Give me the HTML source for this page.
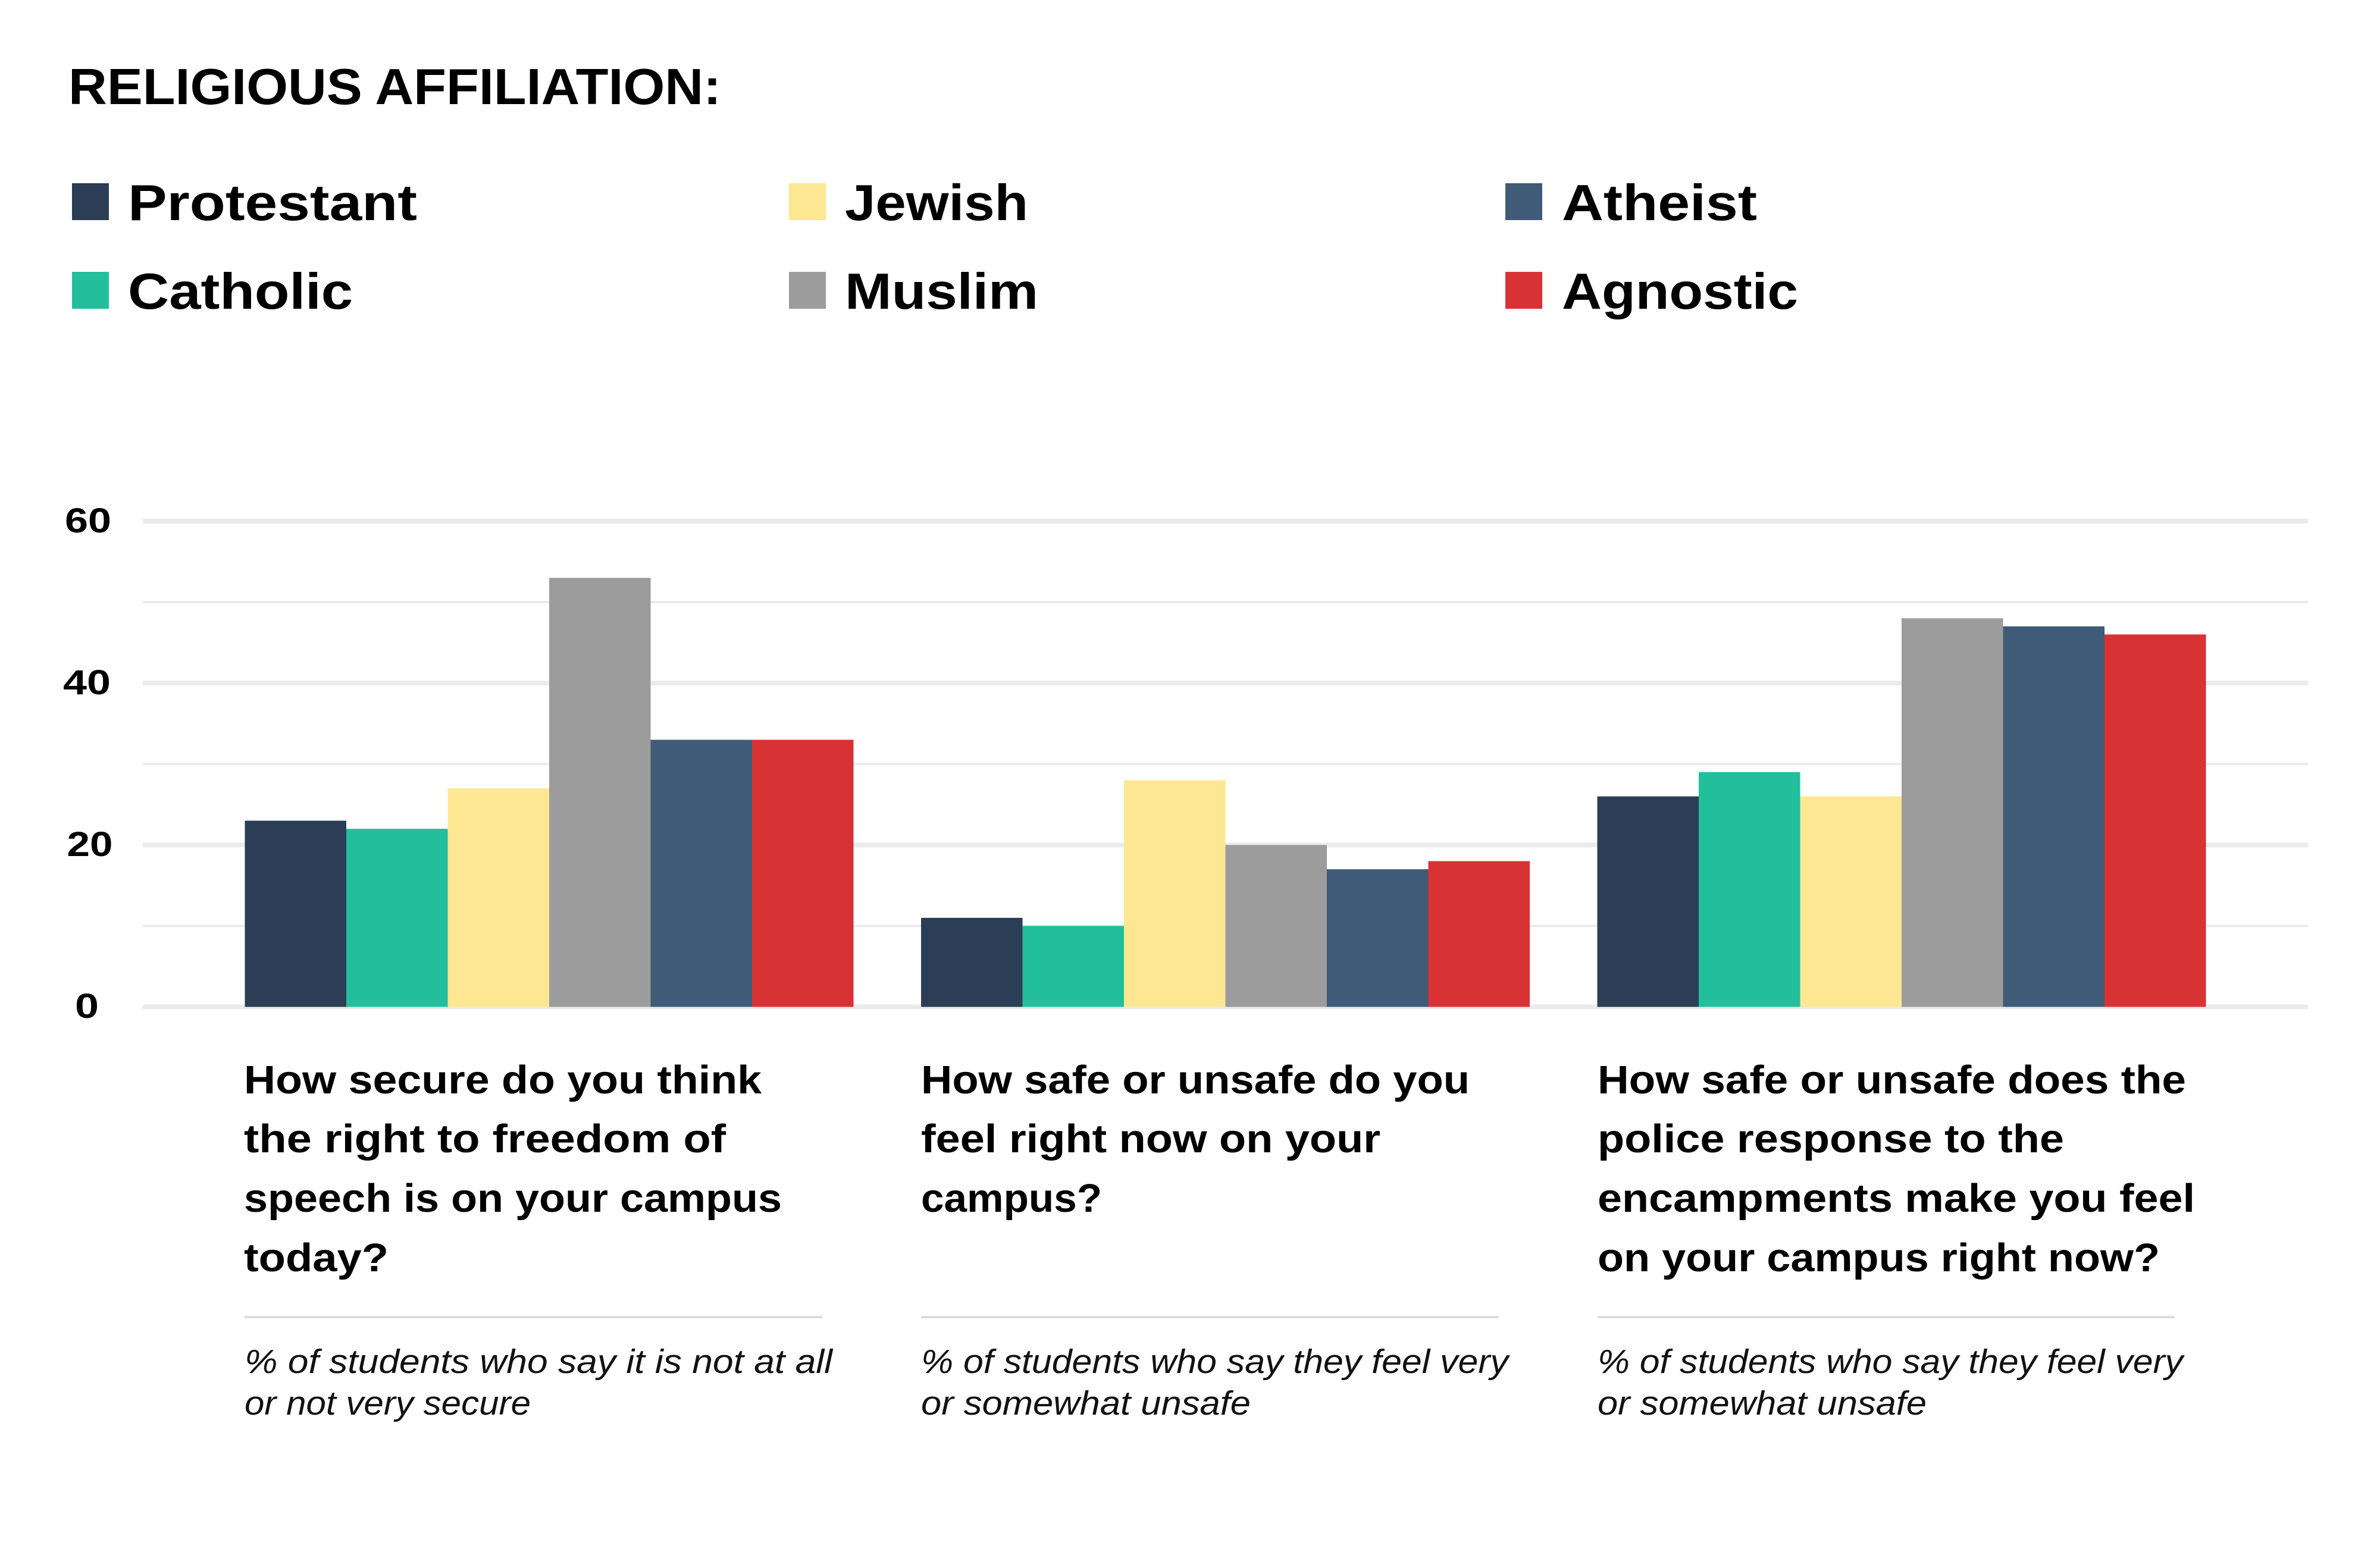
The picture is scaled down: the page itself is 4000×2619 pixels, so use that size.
<!DOCTYPE html>
<html>
<head>
<meta charset="utf-8">
<style>
  html, body { margin: 0; padding: 0; background: #ffffff; }
  svg { display: block; }
  text { font-family: "Liberation Sans", "DejaVu Sans", sans-serif; fill: #000; }
  .b { font-weight: bold; }
  .it { font-style: italic; font-weight: normal; fill: #111; }
</style>
</head>
<body>
<svg width="4000" height="2619" viewBox="0 0 4000 2619" xmlns="http://www.w3.org/2000/svg">
  <rect x="0" y="0" width="4000" height="2619" fill="#ffffff"/>

  <!-- Title -->
  <text class="b" x="115" y="175" font-size="85" textLength="1097" lengthAdjust="spacingAndGlyphs">RELIGIOUS AFFILIATION:</text>

  <!-- Legend -->
  <rect x="121" y="308" width="62" height="62" fill="#2c3e55"/>
  <text class="b" x="215" y="370" font-size="85" textLength="486" lengthAdjust="spacingAndGlyphs">Protestant</text>
  <rect x="121" y="457" width="62" height="62" fill="#23be9b"/>
  <text class="b" x="215" y="519" font-size="85" textLength="378" lengthAdjust="spacingAndGlyphs">Catholic</text>

  <rect x="1326" y="308" width="62" height="62" fill="#fde793"/>
  <text class="b" x="1420" y="370" font-size="85" textLength="308" lengthAdjust="spacingAndGlyphs">Jewish</text>
  <rect x="1326" y="457" width="62" height="62" fill="#9c9c9c"/>
  <text class="b" x="1420" y="519" font-size="85" textLength="325" lengthAdjust="spacingAndGlyphs">Muslim</text>

  <rect x="2530" y="308" width="62" height="62" fill="#405b77"/>
  <text class="b" x="2625" y="370" font-size="85" textLength="328" lengthAdjust="spacingAndGlyphs">Atheist</text>
  <rect x="2530" y="457" width="62" height="62" fill="#d93234"/>
  <text class="b" x="2625" y="519" font-size="85" textLength="397" lengthAdjust="spacingAndGlyphs">Agnostic</text>

  <!-- Gridlines -->
  <g fill="#ebebeb">
    <rect x="240" y="872" width="3639" height="8"/>
    <rect x="240" y="1010.1" width="3639" height="4"/>
    <rect x="240" y="1144.2" width="3639" height="8"/>
    <rect x="240" y="1282.3" width="3639" height="4"/>
    <rect x="240" y="1416.4" width="3639" height="8"/>
    <rect x="240" y="1554.5" width="3639" height="4"/>
    <rect x="240" y="1688.6" width="3639" height="8"/>
  </g>

  <!-- Y axis labels -->
  <text class="b" x="148" y="895" font-size="58" text-anchor="middle" textLength="78" lengthAdjust="spacingAndGlyphs">60</text>
  <text class="b" x="146" y="1167" font-size="58" text-anchor="middle" textLength="80" lengthAdjust="spacingAndGlyphs">40</text>
  <text class="b" x="151" y="1439" font-size="58" text-anchor="middle" textLength="77" lengthAdjust="spacingAndGlyphs">20</text>
  <text class="b" x="146" y="1711" font-size="58" text-anchor="middle" textLength="40" lengthAdjust="spacingAndGlyphs">0</text>

  <!-- Group 1 bars: 23,22,27,53,33,33 -->
  <rect x="411.5" y="1379.6" width="170.5" height="313.0" fill="#2c3e55"/>
  <rect x="582" y="1393.2" width="170.5" height="299.4" fill="#23be9b"/>
  <rect x="752.5" y="1325.2" width="170.5" height="367.4" fill="#fde793"/>
  <rect x="923" y="971.4" width="170.5" height="721.2" fill="#9c9c9c"/>
  <rect x="1093.5" y="1243.6" width="170.5" height="449.0" fill="#405b77"/>
  <rect x="1264" y="1243.6" width="170.5" height="449.0" fill="#d93234"/>

  <!-- Group 2 bars: 11,10,28,20,17,18 -->
  <rect x="1548" y="1542.9" width="170.5" height="149.7" fill="#2c3e55"/>
  <rect x="1718.5" y="1556.5" width="170.5" height="136.1" fill="#23be9b"/>
  <rect x="1889" y="1311.6" width="170.5" height="381.0" fill="#fde793"/>
  <rect x="2059.5" y="1420.4" width="170.5" height="272.2" fill="#9c9c9c"/>
  <rect x="2230" y="1461.2" width="170.5" height="231.4" fill="#405b77"/>
  <rect x="2400.5" y="1447.6" width="170.5" height="245.0" fill="#d93234"/>

  <!-- Group 3 bars: 26,29,26,48,47,46 -->
  <rect x="2684.5" y="1338.7" width="170.5" height="353.9" fill="#2c3e55"/>
  <rect x="2855" y="1297.9" width="170.5" height="394.7" fill="#23be9b"/>
  <rect x="3025.5" y="1338.7" width="170.5" height="353.9" fill="#fde793"/>
  <rect x="3196" y="1039.3" width="170.5" height="653.3" fill="#9c9c9c"/>
  <rect x="3366.5" y="1052.9" width="170.5" height="639.7" fill="#405b77"/>
  <rect x="3537" y="1066.5" width="170.5" height="626.1" fill="#d93234"/>

  <!-- Category labels group 1 -->
  <text class="b" x="410" y="1838" font-size="67" textLength="870" lengthAdjust="spacingAndGlyphs">How secure do you think</text>
  <text class="b" x="410" y="1937" font-size="67" textLength="810" lengthAdjust="spacingAndGlyphs">the right to freedom of</text>
  <text class="b" x="410" y="2037" font-size="67" textLength="904" lengthAdjust="spacingAndGlyphs">speech is on your campus</text>
  <text class="b" x="410" y="2137" font-size="67" textLength="243" lengthAdjust="spacingAndGlyphs">today?</text>
  <rect x="411" y="2212" width="971" height="4" fill="#dcdcdc"/>
  <text class="it" x="411" y="2308" font-size="57" textLength="988" lengthAdjust="spacingAndGlyphs">% of students who say it is not at all</text>
  <text class="it" x="411" y="2378" font-size="57" textLength="481" lengthAdjust="spacingAndGlyphs">or not very secure</text>

  <!-- Category labels group 2 -->
  <text class="b" x="1548" y="1838" font-size="67" textLength="922" lengthAdjust="spacingAndGlyphs">How safe or unsafe do you</text>
  <text class="b" x="1548" y="1937" font-size="67" textLength="772" lengthAdjust="spacingAndGlyphs">feel right now on your</text>
  <text class="b" x="1548" y="2037" font-size="67" textLength="304" lengthAdjust="spacingAndGlyphs">campus?</text>
  <rect x="1548" y="2212" width="971" height="4" fill="#dcdcdc"/>
  <text class="it" x="1548" y="2308" font-size="57" textLength="987" lengthAdjust="spacingAndGlyphs">% of students who say they feel very</text>
  <text class="it" x="1548" y="2378" font-size="57" textLength="554" lengthAdjust="spacingAndGlyphs">or somewhat unsafe</text>

  <!-- Category labels group 3 -->
  <text class="b" x="2685" y="1838" font-size="67" textLength="989" lengthAdjust="spacingAndGlyphs">How safe or unsafe does the</text>
  <text class="b" x="2685" y="1937" font-size="67" textLength="784" lengthAdjust="spacingAndGlyphs">police response to the</text>
  <text class="b" x="2685" y="2037" font-size="67" textLength="1004" lengthAdjust="spacingAndGlyphs">encampments make you feel</text>
  <text class="b" x="2685" y="2137" font-size="67" textLength="945" lengthAdjust="spacingAndGlyphs">on your campus right now?</text>
  <rect x="2685" y="2212" width="970" height="4" fill="#dcdcdc"/>
  <text class="it" x="2685" y="2308" font-size="57" textLength="984" lengthAdjust="spacingAndGlyphs">% of students who say they feel very</text>
  <text class="it" x="2685" y="2378" font-size="57" textLength="553" lengthAdjust="spacingAndGlyphs">or somewhat unsafe</text>
</svg>
</body>
</html>
